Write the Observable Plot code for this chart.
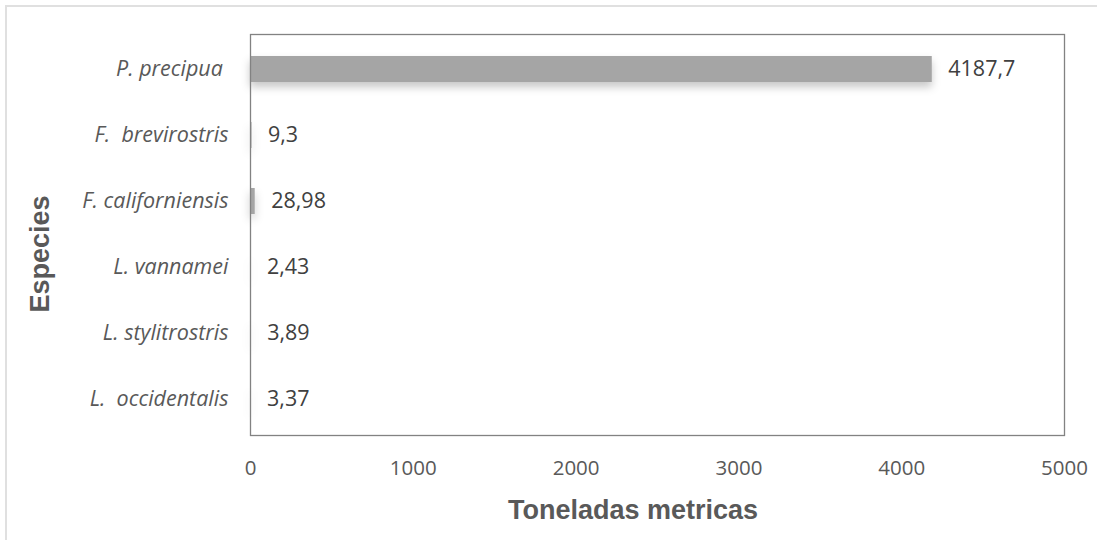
<!DOCTYPE html>
<html><head><meta charset="utf-8">
<script src="https://cdn.jsdelivr.net/npm/d3@7"></script>
<script src="https://cdn.jsdelivr.net/npm/@observablehq/plot@0.6"></script>
<style>
html,body{margin:0;padding:0;background:#fff;overflow:hidden;}
#wrap{position:relative;width:1097px;height:540px;overflow:hidden;background:#fff;}
#border{position:absolute;left:5px;top:5px;width:1200px;height:700px;border:2px solid #e0e0e0;}
#chart{position:absolute;left:0;top:0;}
#chart svg text{white-space:pre;}
.bars{filter:drop-shadow(0px 5px 4px rgba(0,0,0,0.22));}
</style></head>
<body><div id="wrap"><div id="border"></div><div id="chart"></div></div>
<script>
const species = ["P. precipua ", "F.  brevirostris", "F. californiensis", "L. vannamei", "L. stylitrostris", "L.  occidentalis"];
const values = [4187.7, 9.3, 28.98, 2.43, 3.89, 3.37];
const valueLabels = ["4187,7", "9,3", "28,98", "2,43", "3,89", "3,37"];
const xTicks = [0, 1000, 2000, 3000, 4000, 5000];
const xDomain = [0, 5000];
const xTitle = "Toneladas metricas";
const yTitle = "Especies";

const data = species.map((s, i) => ({species: s, value: values[i], label: valueLabels[i]}));

const chart = Plot.plot({
  width: 1097,
  height: 540,
  marginLeft: 250,
  marginRight: 33,
  marginTop: 34,
  marginBottom: 105,
  style: {fontFamily: "'Open Sans', sans-serif", color: "#595959", background: "transparent", overflow: "visible"},
  x: {domain: xDomain},
  y: {domain: species, paddingInner: 0.6, paddingOuter: 0.3},
  marks: [
    Plot.barX(data, {x: "value", y: "species", fill: "#a5a5a5", className: "bars"}),
    Plot.frame({stroke: "#828282", strokeWidth: 1.3}),
    Plot.axisX({ticks: xTicks, tickSize: 0, tickPadding: 25, fontSize: 20.5, label: null, tickFormat: d => String(d)}),
    Plot.axisY({tickSize: 0, tickPadding: 22, fontSize: 21.5, fontStyle: "italic", label: null}),
    Plot.text(data, {x: "value", y: "species", text: "label", dx: 16, textAnchor: "start", fontSize: 21.5, fill: "#404040"}),
    Plot.text([xTitle], {frameAnchor: "bottom", lineAnchor: "middle", textAnchor: "middle", dx: -24.5, dy: 75, fontSize: 27, fontWeight: "bold", fontFamily: "'Liberation Sans', Arial, sans-serif", fill: "#595959"}),
    Plot.text([yTitle], {frameAnchor: "left", lineAnchor: "middle", textAnchor: "middle", rotate: -90, dx: -210, dy: 19, fontSize: 27, fontWeight: "bold", fontFamily: "'Liberation Sans', Arial, sans-serif", fill: "#595959"})
  ]
});
document.getElementById("chart").appendChild(chart);
</script>
</body></html>
